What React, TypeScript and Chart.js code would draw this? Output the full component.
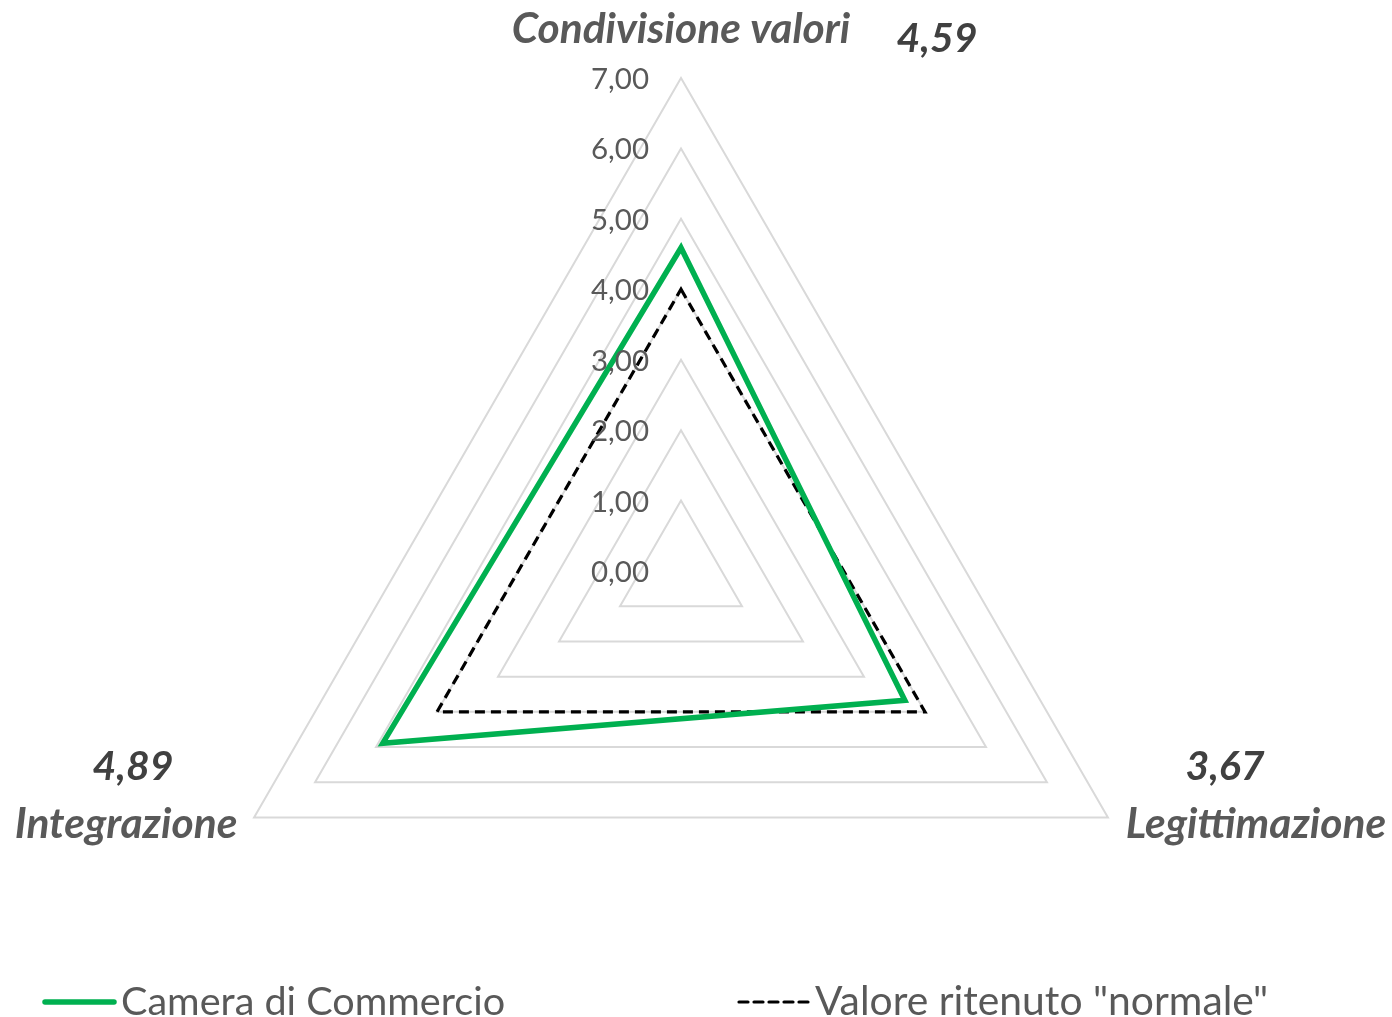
import React, { useEffect, useRef } from 'react';
import { Chart, registerables } from 'chart.js';

Chart.register(...registerables);

const AXIS_LABELS = ['Condivisione valori', 'Legittimazione', 'Integrazione'];
const CAMERA_VALUES = [4.59, 3.67, 4.89];
const NORMAL_VALUES = [4, 4, 4];
const VALUE_LABELS = ['4,59', '3,67', '4,89'];
const TICK_LABELS = ['0,00', '1,00', '2,00', '3,00', '4,00', '5,00', '6,00', '7,00'];
const SERIES_NAMES = ['Camera di Commercio', 'Valore ritenuto "normale"'];

const FONT = 'Lato, "Open Sans", sans-serif';

// offsets from each outer vertex: [labelDx, labelDy, valueDx, valueDy]
const LABEL_OFFSETS = [
  [0, -35, 256, -26],
  [148, 20, 117, -38],
  [-128, 20, -121, -38],
];

const labelsPlugin = {
  id: 'customLabels',
  afterDraw(chart: any) {
    const ctx = chart.ctx;
    const r = chart.scales.r;
    const cx = r.xCenter;
    const cy = r.yCenter;
    ctx.save();
    // tick labels
    ctx.font = `29.5px ${FONT}`;
    ctx.fillStyle = '#595959';
    ctx.textAlign = 'right';
    ctx.textBaseline = 'alphabetic';
    r.ticks.forEach((t: any, i: number) => {
      const d = r.getDistanceFromCenterForValue(t.value);
      ctx.fillText(TICK_LABELS[i] ?? String(t.value), cx - 32, cy - d + 11);
    });
    // axis labels and values
    ctx.textAlign = 'center';
    AXIS_LABELS.forEach((lab, i) => {
      const p = r.getPointPosition(i, r.drawingArea);
      const o = LABEL_OFFSETS[i];
      ctx.font = `italic bold 42.5px ${FONT}`;
      ctx.fillStyle = '#595959';
      ctx.fillText(lab, p.x + o[0], p.y + o[1]);
      ctx.font = `italic bold 41px ${FONT}`;
      ctx.fillStyle = '#404040';
      ctx.fillText(VALUE_LABELS[i], p.x + o[2], p.y + o[3]);
    });
    // legend
    const ds = chart.data.datasets;
    const items = [
      { x0: 45, x1: 114, tx: 121, size: 39.6 },
      { x0: 739, x1: 808, tx: 815, size: 40.8 },
    ];
    const ly = 1002;
    items.forEach((it, i) => {
      const d = ds[i];
      ctx.beginPath();
      ctx.strokeStyle = d.borderColor;
      ctx.lineWidth = d.borderWidth;
      ctx.setLineDash(i === 0 ? [] : [9, 6]);
      ctx.lineCap = 'round';
      ctx.moveTo(it.x0, ly);
      ctx.lineTo(it.x1, ly);
      ctx.stroke();
      ctx.setLineDash([]);
      ctx.font = `${it.size}px ${FONT}`;
      ctx.fillStyle = '#595959';
      ctx.textAlign = 'left';
      ctx.fillText(d.label, it.tx, 1015);
    });
    ctx.restore();
  },
};

export default function App() {
  const ref = useRef<HTMLCanvasElement>(null);
  useEffect(() => {
    if (!ref.current) return;
    const chart = new Chart(ref.current, {
      type: 'radar',
      data: {
        labels: AXIS_LABELS,
        datasets: [
          {
            label: SERIES_NAMES[0],
            data: CAMERA_VALUES,
            borderColor: '#00B050',
            borderWidth: 5.5,
            backgroundColor: 'transparent',
            fill: false,
            pointRadius: 0,
            tension: 0,
          },
          {
            label: SERIES_NAMES[1],
            data: NORMAL_VALUES,
            borderColor: '#000000',
            borderWidth: 3.2,
            borderDash: [10, 6],
            backgroundColor: 'transparent',
            fill: false,
            pointRadius: 0,
            tension: 0,
          },
        ],
      },
      options: {
        responsive: false,
        animation: false,
        layout: { padding: 0 },
        plugins: {
          legend: { display: false },
          tooltip: { enabled: false },
        },
        scales: {
          r: {
            min: 0,
            max: 7,
            ticks: { stepSize: 1, display: false },
            grid: { color: '#d9d9d9', lineWidth: 2 },
            angleLines: { display: false },
            pointLabels: { display: false },
            afterFit: (s: any) => {
              s.xCenter = 681;
              s.yCenter = 571;
              s.drawingArea = 493;
            },
          } as any,
        },
      },
      plugins: [labelsPlugin],
    });
    return () => chart.destroy();
  }, []);
  return (
    <div style={{ position: 'fixed', left: 0, top: 0, width: 1392, height: 1017, background: '#ffffff' }}>
      <canvas ref={ref} width={1392} height={1017} style={{ display: 'block' }} />
    </div>
  );
}
